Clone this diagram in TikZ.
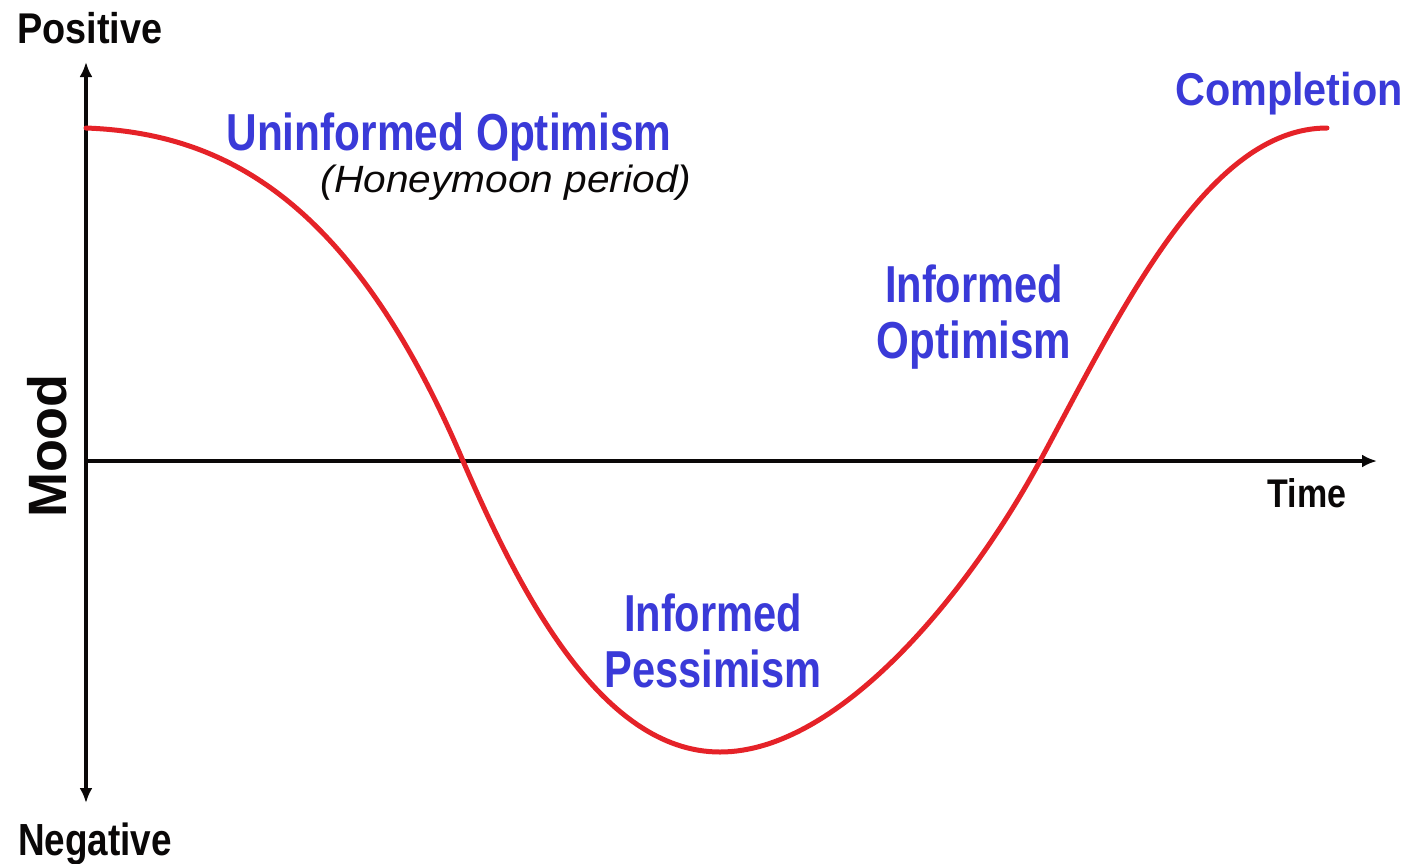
\documentclass[tikz,border=0pt]{standalone}
\usepackage{fontspec}
\setmainfont{Liberation Sans}
\usepackage{graphicx}
\usetikzlibrary{arrows.meta}
\definecolor{curvered}{RGB}{229,34,40}
\definecolor{labelblue}{RGB}{58,58,216}
\definecolor{axisblack}{RGB}{10,8,8}
\newcommand{\sxx}[2]{\scalebox{#1}[1]{#2}}
\begin{document}
\begin{tikzpicture}[x=1pt,y=-1pt,
  axisline/.style={line width=4pt, axisblack},
  tipstyle/.style={-{Latex[length=15pt,width=13pt]}},
  moodcurve/.style={line width=5pt, curvered, line cap=round},
  axislabel/.style={inner sep=0pt, text=axisblack, font=\bfseries\fontsize{43}{50}\selectfont},
  phaselabel/.style={inner sep=0pt, text=labelblue, align=center, font=\bfseries\fontsize{52}{56}\selectfont},
  notelabel/.style={inner sep=0pt, text=axisblack, font=\itshape\fontsize{38}{44}\selectfont}]
\useasboundingbox (0,0) rectangle (1416,863);

% axes
\coordinate (ytop) at (86,62);
\coordinate (ybot) at (86,803);
\coordinate (orig) at (86,461);
\coordinate (xend) at (1377,461);
\draw[axisline, {Latex[length=15pt,width=13pt]}-{Latex[length=15pt,width=13pt]}] (ytop) -- (ybot);
\draw[axisline, tipstyle] (orig) -- (xend);

% curve
\coordinate (p0) at (86,128);
\coordinate (p1) at (463,461);
\coordinate (p2) at (720,752);
\coordinate (p3) at (1040,461);
\coordinate (p4) at (1327,128);
\draw[moodcurve] (p0) .. controls +(134,5) and +(-113,-266) .. (p1)
  .. controls +(55,127) and +(-120,0) .. (p2)
  .. controls +(120,0) and +(-70,129.5) .. (p3)
  .. controls +(80,-148) and +(-120,0) .. (p4);

% axis labels
\node[axislabel, anchor=base] (pos) at (90,43) {\sxx{0.88}{Positive}};
\node[axislabel, anchor=base, font=\bfseries\fontsize{45}{50}\selectfont] (neg) at (95,855) {\sxx{0.82}{Negative}};
\node[axislabel, rotate=90, font=\bfseries\fontsize{54}{60}\selectfont] (mood) at (47,446) {Mood};
\node[axislabel, anchor=base, font=\bfseries\fontsize{40}{46}\selectfont] (time) at (1307,507) {\sxx{0.85}{Time}};

% phase labels
\node[phaselabel, anchor=base] (uo) at (449,150) {\sxx{0.815}{Uninformed Optimism}};
\node[notelabel, anchor=base] (hm) at (506,192) {\sxx{1.07}{(Honeymoon period)}};
\node[phaselabel] (io) at (974,317) {\sxx{0.8}{Informed}\\\sxx{0.81}{Optimism}};
\node[phaselabel] (ip) at (713,641) {\sxx{0.8}{Informed}\\\sxx{0.8}{Pessimism}};
\node[phaselabel, anchor=base, font=\bfseries\fontsize{46}{52}\selectfont] (comp) at (1289,105) {\sxx{0.9}{Completion}};
\end{tikzpicture}
\end{document}
